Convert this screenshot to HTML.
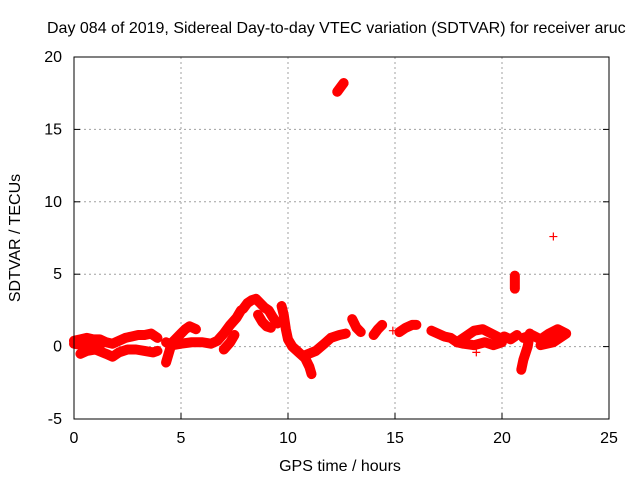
<!DOCTYPE html>
<html><head><meta charset="utf-8"><style>
body{margin:0;background:#fff;}
svg{display:block;font-family:"Liberation Sans",sans-serif;}
</style></head><body>
<svg id="chart" width="640" height="480" viewBox="0 0 640 480">
<text x="47" y="33" font-size="16" fill="#000">Day 084 of 2019, Sidereal Day-to-day VTEC variation (SDTVAR) for receiver aruc</text>
<g id="grid"></g>
<g id="ticks"></g>
<g id="marks"></g>
<rect x="74" y="57" width="535" height="362" fill="none" stroke="#000" stroke-width="1"/>
<text x="340" y="471" font-size="16" text-anchor="middle">GPS time / hours</text>
<text transform="translate(20,238) rotate(-90)" font-size="16" text-anchor="middle">SDTVAR / TECUs</text>
</svg>
<script>
const xTicks=[0,5,10,15,20,25];
const yTicks=[-5,0,5,10,15,20];
const tracks=[
[[0,0.4],[0.3,0.5],[0.6,0.6],[0.9,0.5],[1.2,0.5],[1.5,0.3],[1.8,0.2],[2.1,0.4],[2.4,0.6],[2.7,0.7],[3.0,0.8],[3.3,0.8],[3.6,0.9],[3.9,0.6]],
[[0,0.2],[0.4,0.1],[0.8,0.2],[1.2,0.0]],
[[0.3,-0.5],[0.6,-0.3],[1.0,-0.2],[1.5,-0.5],[1.8,-0.7],[2.1,-0.4],[2.5,-0.2],[2.9,-0.2],[3.3,-0.3],[3.7,-0.4],[3.9,-0.3]],
[[4.3,-1.1],[4.4,-0.6],[4.5,-0.1],[4.6,0.3],[4.8,0.6],[5.0,0.9],[5.2,1.2],[5.4,1.4],[5.7,1.2]],
[[4.3,0.3],[4.6,0.1],[5.0,0.2],[5.5,0.3],[6.0,0.3],[6.4,0.2],[6.7,0.4],[7.0,0.9],[7.3,1.5],[7.6,2.0],[7.8,2.5]],
[[7.0,-0.2],[7.3,0.3],[7.5,0.8]],
[[7.9,2.6],[8.1,3.0],[8.3,3.2],[8.5,3.3],[8.7,3.0],[8.9,2.7],[9.1,2.5],[9.3,2.0],[9.5,1.6]],
[[8.6,2.2],[8.8,1.7],[9.0,1.4],[9.2,1.3]],
[[9.7,2.8],[9.8,2.2],[9.9,1.2],[10.0,0.5],[10.2,0.0],[10.5,-0.4],[10.8,-0.8],[11.0,-1.4],[11.1,-1.9]],
[[10.8,-0.6],[11.3,-0.3],[11.7,0.2],[12.0,0.6],[12.4,0.8],[12.7,0.9]],
[[12.3,17.6],[12.5,18.0],[12.6,18.2]],
[[13.0,1.9],[13.2,1.3],[13.4,1.0]],
[[14.0,0.8],[14.2,1.2],[14.4,1.5]],
[[14.9,1.1]],
[[15.2,1.0],[15.5,1.3],[15.8,1.5],[16.0,1.5]],
[[16.7,1.1],[17.0,0.9],[17.3,0.7],[17.6,0.6],[17.9,0.3],[18.3,0.7],[18.7,1.1],[19.1,1.2],[19.5,0.9],[19.9,0.6]],
[[17.9,0.3],[18.2,0.2],[18.7,0.1],[19.2,0.3],[19.6,0.1],[20.0,0.3]],
[[18.8,-0.4]],
[[20.1,0.7],[20.4,0.5],[20.7,0.8]],
[[20.6,4.9],[20.6,4.4],[20.6,4.0]],
[[21.3,0.9],[21.2,0.0],[21.0,-0.9],[20.9,-1.6]],
[[21.0,0.6],[21.4,0.8],[21.8,0.5],[22.2,0.9],[22.6,1.2],[23.0,0.9],[22.4,0.3],[21.8,0.1]],
[[22.4,7.6]]
];
const NS="http://www.w3.org/2000/svg";
const X=v=>74+(v-0)*535/25;
const Y=v=>419-(v+5)*362/25;
function mk(t,a){const e=document.createElementNS(NS,t);for(const k in a)e.setAttribute(k,a[k]);return e;}
const grid=document.getElementById('grid'),ticks=document.getElementById('ticks'),marks=document.getElementById('marks');
xTicks.forEach(t=>{
 if(t>0&&t<25){const l=mk('line',{x1:X(t),x2:X(t),y1:57,y2:419,stroke:'#a0a0a0','stroke-dasharray':'2,3'});
 
 grid.appendChild(l);}
 const tk=mk('line',{x1:X(t),x2:X(t),y1:419,y2:413,stroke:'#000'});
 
 ticks.appendChild(tk);
 const tx=mk('text',{x:X(t),y:443,'font-size':16,'text-anchor':'middle'});tx.textContent=t;
 
 ticks.appendChild(tx);
});
yTicks.forEach(t=>{
 if(t>-5&&t<20){const l=mk('line',{x1:74,x2:609,y1:Y(t),y2:Y(t),stroke:'#a0a0a0','stroke-dasharray':'2,3'});
 
 grid.appendChild(l);}
 const tk=mk('line',{x1:74,x2:80,y1:Y(t),y2:Y(t),stroke:'#000'});
 
 ticks.appendChild(tk);
 const tk2=mk('line',{x1:603,x2:609,y1:Y(t),y2:Y(t),stroke:'#000'});
 
 ticks.appendChild(tk2);
 const tx=mk('text',{x:62,y:Y(t)+5,'font-size':16,'text-anchor':'end'});tx.textContent=t;
 
 ticks.appendChild(tx);
});
tracks.forEach(tr=>{
 if(tr.length>1){
  const p=mk('polyline',{points:tr.map(d=>X(d[0])+','+Y(d[1])).join(' '),fill:'none',stroke:'#f00','stroke-width':10,'stroke-linejoin':'round','stroke-linecap':'round'});
  
  marks.appendChild(p);
 }
 tr.forEach(d=>{
  const x=X(d[0]),y=Y(d[1]);
  const m=mk('path',{d:`M${x-4},${y}H${x+4}M${x},${y-4}V${y+4}`,stroke:'#f00','stroke-width':1.2,fill:'none'});
  
  marks.appendChild(m);
 });
});
</script>
</body></html>
